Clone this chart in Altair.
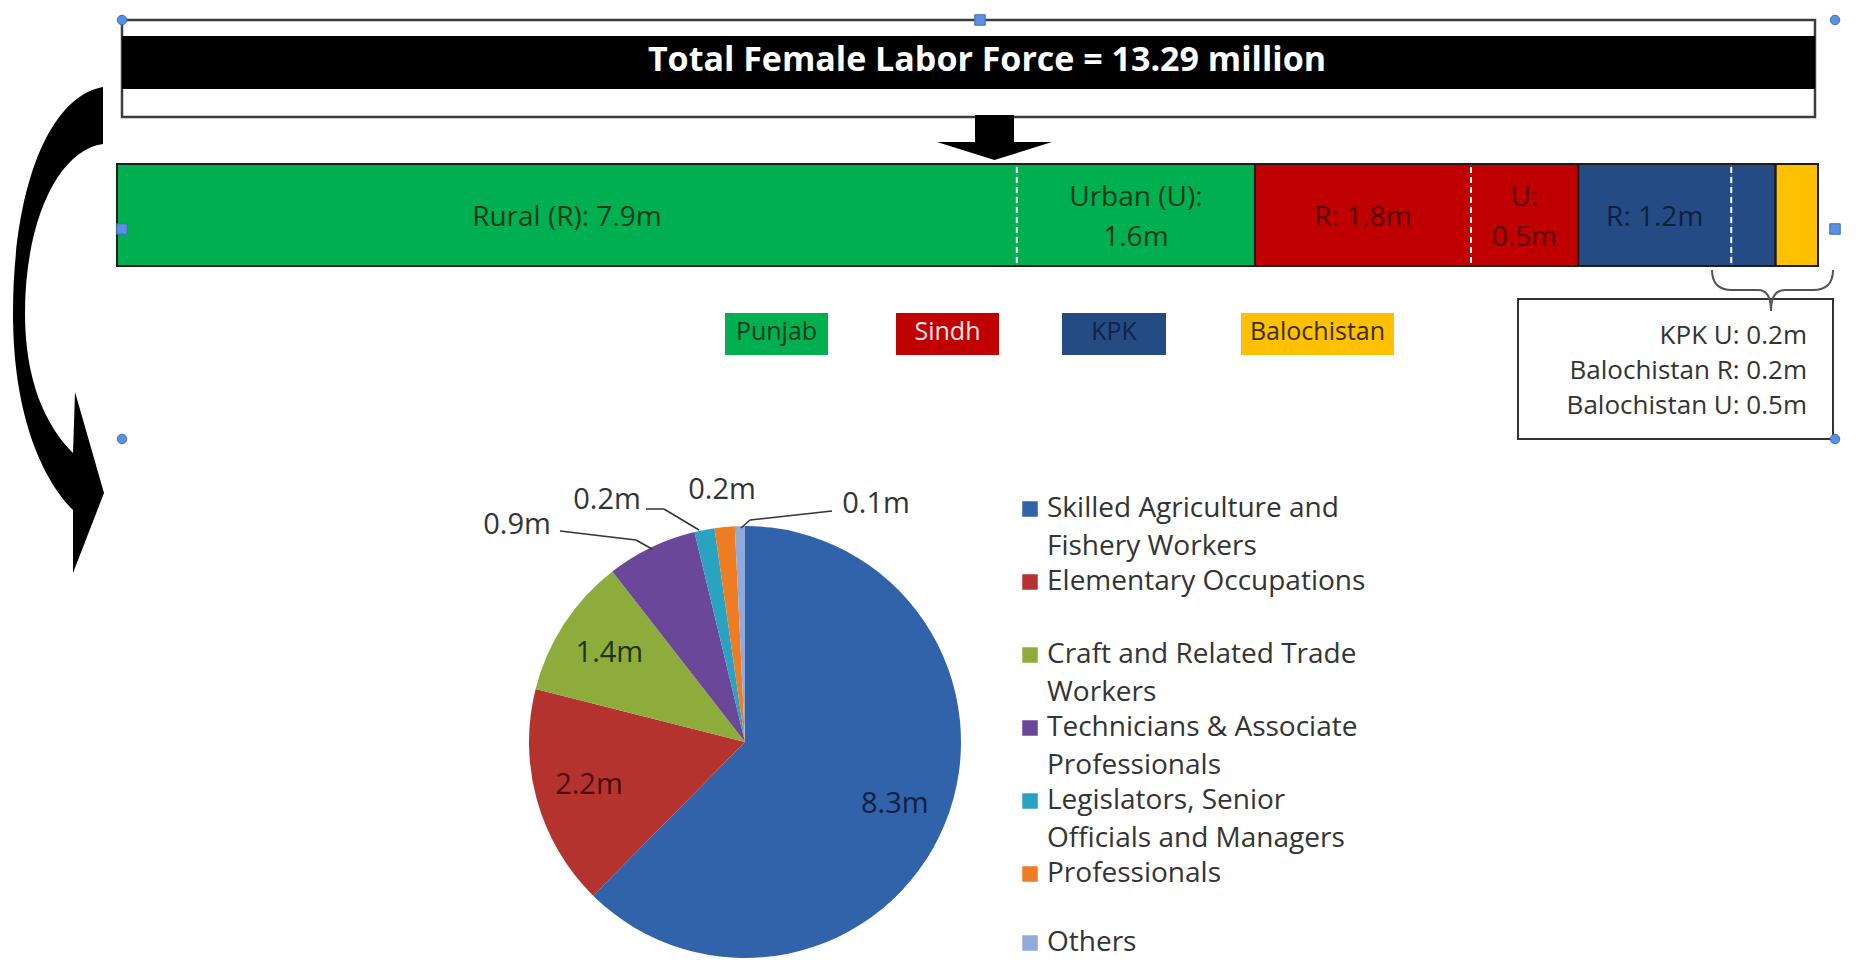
import altair as alt
import pandas as pd

# ---------------- data ----------------
TITLE = "Total Female Labor Force = 13.29 million"

seg_province = ["Punjab", "Punjab", "Sindh", "Sindh", "KPK", "KPK", "Balochistan"]
seg_area = ["Rural", "Urban", "Rural", "Urban", "Rural", "Urban", "All"]
seg_label = ["Rural (R): 7.9m", "Urban (U):\n1.6m", "R: 1.8m", "U:\n0.5m", "R: 1.2m", "", ""]
seg_span = [52.9, 14.0, 12.7, 6.3, 9.0, 2.6, 2.5]  # share of bar length as drawn (%)

provinces = ["Punjab", "Sindh", "KPK", "Balochistan"]
callout_lines = ["KPK U: 0.2m", "Balochistan R: 0.2m", "Balochistan U: 0.5m"]

occupations = [
    "Skilled Agriculture and Fishery Workers",
    "Elementary Occupations",
    "Craft and Related Trade Workers",
    "Technicians & Associate Professionals",
    "Legislators, Senior Officials and Managers",
    "Professionals",
    "Others",
]
occ_values = [8.3, 2.2, 1.4, 0.9, 0.2, 0.2, 0.1]
occ_labels = ["8.3m", "2.2m", "1.4m", "0.9m", "0.2m", "0.2m", "0.1m"]
occ_legend_lines = [
    ["Skilled Agriculture and", "Fishery Workers"],
    ["Elementary Occupations"],
    ["Craft and Related Trade", "Workers"],
    ["Technicians & Associate", "Professionals"],
    ["Legislators, Senior", "Officials and Managers"],
    ["Professionals"],
    ["Others"],
]

# ---------------- styles ----------------
FONT = "Open Sans"
province_fill = ["#00B050", "#C00000", "#254B84", "#FFC000"]
province_text = ["#0E3A1B", "#560000", "#0C2142", "#333333"]
legend_text = ["#0E3B1A", "#FFE5E5", "#0E2447", "#3A2E00"]
pie_colors = ["#3063AA", "#B5332F", "#8DAC3C", "#6B4799", "#2AA3C2", "#EE7C22", "#90AADB"]
pie_label_colors = ["#10213F", "#4A0C0A", "#24330E", "#333333", "#333333", "#333333", "#333333"]
HANDLE = "#5B8FE0"

# ---------------- layout (page pixels) ----------------
W, H = 1840, 953
OFF = 8


def px(v):
    return v - OFF


BOX = (122, 1815, 20, 117)
BAND = (36, 89)
BAR_X = (117, 1818)
BAR_Y = (164, 266)
BAR_LABEL_CY = 218
BAR_LABEL_LH = 40
LEG_X0 = [725, 896, 1062, 1241]
LEG_X1 = [828, 999, 1166, 1394]
LEG_Y = (313, 355)
CALLOUT = (1518, 1833, 299, 439)
CALLOUT_TEXT_X = 1807
CALLOUT_TEXT_Y = [336, 371, 406]
PIE_C = (745, 742)
PIE_R = 216
OUTER_LABEL_POS = [(517, 525), (607, 500), (722, 490), (876, 504)]
LEADERS = [
    ((560, 531), (636, 540)), ((636, 540), (652, 549)),
    ((646, 509), (664, 509)), ((664, 509), (699, 530)),
    ((832, 511), (750, 520)), ((750, 520), (741, 528)),
]
LEGEND_SQ_X = 1030
LEGEND_TX_X = 1047
LEGEND_ROW_Y = [509, 582, 655, 728, 801, 874, 943]
LEGEND_LINE = 38

one = pd.DataFrame({"k": [0]})
layers = []


def path_str(cmds, cx, cy, half):
    out = []
    for c, pts in cmds:
        if c == "Z":
            out.append("Z")
            continue
        coords = " ".join(f"{(x - cx) / half:.4f} {(y - cy) / half:.4f}" for x, y in pts)
        out.append(f"{c} {coords}")
    return " ".join(out)


# ---- title box ----
layers.append(alt.Chart(one).mark_rect(fill="white", stroke="#3c3c3c", strokeWidth=2.5).encode(
    x=alt.value(px(BOX[0])), x2=alt.value(px(BOX[1])), y=alt.value(px(BOX[2])), y2=alt.value(px(BOX[3]))))
layers.append(alt.Chart(one).mark_rect(fill="black").encode(
    x=alt.value(px(BOX[0])), x2=alt.value(px(BOX[1])), y=alt.value(px(BAND[0])), y2=alt.value(px(BAND[1]))))
layers.append(alt.Chart(pd.DataFrame({"t": [TITLE]})).mark_text(
    font=FONT, fontWeight="bold", fontSize=34, color="white", align="center", baseline="middle").encode(
    text="t:N", x=alt.value(px(987)), y=alt.value(px(61))))

# ---- down arrow ----
ARROW_C = (994.5, 137.5)
arrow_path = path_str([
    ("M", [(975, 115)]), ("L", [(1014, 115)]), ("L", [(1014, 142)]), ("L", [(1052, 142)]),
    ("L", [(994.5, 160)]), ("L", [(937, 142)]), ("L", [(975, 142)]), ("Z", []),
], ARROW_C[0], ARROW_C[1], 60)
layers.append(alt.Chart(one).mark_point(shape=arrow_path, filled=True, fill="black", opacity=1, size=14400).encode(
    x=alt.value(px(ARROW_C[0])), y=alt.value(px(ARROW_C[1]))))

# ---- curved arrow on the left ----
CURVE_C = (58.5, 331.5)
curve_path = path_str([
    ("M", [(103, 87)]),
    ("C", [(48, 97), (13, 190), (13, 313)]),
    ("C", [(13, 420), (45, 482), (73, 510)]),
    ("L", [(73, 573)]),
    ("L", [(104, 493)]),
    ("L", [(75, 392)]),
    ("L", [(73, 453)]),
    ("C", [(45, 425), (25, 380), (25, 313)]),
    ("C", [(25, 222), (58, 150), (103, 144)]),
    ("Z", []),
], CURVE_C[0], CURVE_C[1], 250)
layers.append(alt.Chart(one).mark_point(shape=curve_path, filled=True, fill="black", opacity=1, size=250000).encode(
    x=alt.value(px(CURVE_C[0])), y=alt.value(px(CURVE_C[1]))))

# ---- stacked provincial bar ----
a, b = px(BAR_X[0]), px(BAR_X[1])
D = 100.0 * W / (b - a)
d0 = -a * D / W
bar_scale = alt.Scale(domain=[d0, d0 + D], nice=False, zero=False)

bar_df = pd.DataFrame({"order": list(range(len(seg_span))), "province": seg_province,
                       "area": seg_area, "label": seg_label, "span": seg_span})
bar_base = alt.Chart(bar_df).transform_window(
    cum_end="sum(span)", sort=[alt.SortField("order", order="ascending")], frame=[None, 0]
).transform_calculate(cum_start="datum.cum_end - datum.span").transform_calculate(
    mid="(datum.cum_start + datum.cum_end) / 2")

layers.append(bar_base.mark_rect().encode(
    x=alt.X("cum_start:Q", scale=bar_scale, axis=None), x2="cum_end:Q",
    y=alt.value(px(BAR_Y[0])), y2=alt.value(px(BAR_Y[1])),
    color=alt.Color("province:N", scale=alt.Scale(domain=provinces, range=province_fill), legend=None)))
layers.append(bar_base.transform_filter("datum.area == 'Rural'").mark_rule(
    stroke="white", strokeDash=[6, 4], strokeWidth=2).encode(
    x=alt.X("cum_end:Q", scale=bar_scale, axis=None),
    y=alt.value(px(BAR_Y[0] + 3)), y2=alt.value(px(BAR_Y[1] - 3))))
layers.append(bar_base.transform_aggregate(
    start="min(cum_start)", end="max(cum_end)", groupby=["province"]).mark_rect(
    fillOpacity=0, stroke="#1e1e1e", strokeWidth=2).encode(
    x=alt.X("start:Q", scale=bar_scale, axis=None), x2="end:Q",
    y=alt.value(px(BAR_Y[0])), y2=alt.value(px(BAR_Y[1]))))
layers.append(bar_base.transform_calculate(
    nl="length(split(datum.label, '\\n'))"
).transform_calculate(
    ty=f"{px(BAR_LABEL_CY)} - (datum.nl - 1) * {BAR_LABEL_LH / 2}"
).mark_text(font=FONT, fontSize=28, lineBreak="\n", lineHeight=BAR_LABEL_LH,
            align="center", baseline="middle").encode(
    x=alt.X("mid:Q", scale=bar_scale, axis=None), y=alt.Y("ty:Q", scale=None), text="label:N",
    color=alt.Color("province:N", scale=alt.Scale(domain=provinces, range=province_text), legend=None)))

# ---- province legend boxes ----
leg_df = pd.DataFrame({"province": provinces,
                       "x0": [px(v) for v in LEG_X0], "x1": [px(v) for v in LEG_X1]})
leg_df["xm"] = (leg_df["x0"] + leg_df["x1"]) / 2
layers.append(alt.Chart(leg_df).mark_rect().encode(
    x=alt.X("x0:Q", scale=None), x2="x1:Q", y=alt.value(px(LEG_Y[0])), y2=alt.value(px(LEG_Y[1])),
    color=alt.Color("province:N", scale=alt.Scale(domain=provinces, range=province_fill), legend=None)))
layers.append(alt.Chart(leg_df).mark_text(font=FONT, fontSize=25, align="center", baseline="middle").encode(
    x=alt.X("xm:Q", scale=None), y=alt.value(px((LEG_Y[0] + LEG_Y[1]) / 2 - 2)), text="province:N",
    color=alt.Color("province:N", scale=alt.Scale(domain=provinces, range=legend_text), legend=None)))

# ---- callout box with brace ----
layers.append(alt.Chart(one).mark_rect(fill="white", stroke="#333333", strokeWidth=2).encode(
    x=alt.value(px(CALLOUT[0])), x2=alt.value(px(CALLOUT[1])),
    y=alt.value(px(CALLOUT[2])), y2=alt.value(px(CALLOUT[3]))))
BRACE_C = (1772.5, 290.5)
brace_path = path_str([
    ("M", [(1712, 270)]), ("Q", [(1712, 290), (1732, 290)]), ("L", [(1758, 290)]),
    ("Q", [(1771, 290), (1771, 311)]), ("Q", [(1771, 290), (1785, 290)]), ("L", [(1813, 290)]),
    ("Q", [(1833, 290), (1833, 270)]),
], BRACE_C[0], BRACE_C[1], 65)
layers.append(alt.Chart(one).mark_point(shape=brace_path, filled=False, stroke="#555555",
                                        strokeWidth=2, opacity=1, size=16900).encode(
    x=alt.value(px(BRACE_C[0])), y=alt.value(px(BRACE_C[1]))))
call_df = pd.DataFrame({"t": callout_lines, "y": [px(v) for v in CALLOUT_TEXT_Y]})
layers.append(alt.Chart(call_df).mark_text(font=FONT, fontSize=26, align="right", baseline="middle",
                                           color="#333333").encode(
    x=alt.value(px(CALLOUT_TEXT_X)), y=alt.Y("y:Q", scale=None), text="t:N"))

# ---- selection handles ----
hcirc = pd.DataFrame({"x": [px(122), px(1835), px(122), px(1835)], "y": [px(20), px(20), px(439), px(439)]})
hsq = pd.DataFrame({"x": [px(980), px(122), px(1835)], "y": [px(20), px(229), px(229)]})
layers.append(alt.Chart(hcirc).mark_point(shape="circle", filled=True, fill=HANDLE, stroke="#3D6CC0",
                                          strokeWidth=1, opacity=1, size=90).encode(
    x=alt.X("x:Q", scale=None), y=alt.Y("y:Q", scale=None)))
layers.append(alt.Chart(hsq).mark_point(shape="square", filled=True, fill=HANDLE, stroke="#3D6CC0",
                                        strokeWidth=1, opacity=1, size=110).encode(
    x=alt.X("x:Q", scale=None), y=alt.Y("y:Q", scale=None)))

# ---- pie ----
pie_df = pd.DataFrame({"idx": list(range(len(occupations))), "occupation": occupations,
                       "value": occ_values, "label": occ_labels})
pie_color = alt.Scale(domain=occupations, range=pie_colors)
layers.append(alt.Chart(pie_df).mark_arc(radius=PIE_R).encode(
    theta=alt.Theta("value:Q", stack=True), order=alt.Order("idx:Q"),
    color=alt.Color("occupation:N", scale=pie_color, legend=None),
    x=alt.value(px(PIE_C[0])), y=alt.value(px(PIE_C[1]))))
layers.append(alt.Chart(pie_df).transform_calculate(
    inner="datum.value >= 1 ? datum.label : ''").mark_text(
    radius=162, font=FONT, fontSize=29, align="center", baseline="middle").encode(
    theta=alt.Theta("value:Q", stack=True), order=alt.Order("idx:Q"), text="inner:N",
    color=alt.Color("occupation:N", scale=alt.Scale(domain=occupations, range=pie_label_colors), legend=None),
    x=alt.value(px(PIE_C[0])), y=alt.value(px(PIE_C[1]))))

small = [i for i, v in enumerate(occ_values) if v < 1]
out_df = pd.DataFrame({"t": [occ_labels[i] for i in small],
                       "x": [px(p[0]) for p in OUTER_LABEL_POS], "y": [px(p[1]) for p in OUTER_LABEL_POS]})
layers.append(alt.Chart(out_df).mark_text(font=FONT, fontSize=29, align="center", baseline="middle",
                                          color="#333333").encode(
    x=alt.X("x:Q", scale=None), y=alt.Y("y:Q", scale=None), text="t:N"))
lead_df = pd.DataFrame({"x": [px(s[0][0]) for s in LEADERS], "y": [px(s[0][1]) for s in LEADERS],
                        "x2": [px(s[1][0]) for s in LEADERS], "y2": [px(s[1][1]) for s in LEADERS]})
layers.append(alt.Chart(lead_df).mark_rule(stroke="#333333", strokeWidth=1.5).encode(
    x=alt.X("x:Q", scale=None), y=alt.Y("y:Q", scale=None), x2="x2:Q", y2="y2:Q"))

# ---- pie legend ----
leg_rows = pd.DataFrame({"occupation": occupations, "y": [px(v) for v in LEGEND_ROW_Y]})
layers.append(alt.Chart(leg_rows).mark_square(size=240, opacity=1).encode(
    x=alt.value(px(LEGEND_SQ_X)), y=alt.Y("y:Q", scale=None),
    color=alt.Color("occupation:N", scale=pie_color, legend=None)))
txt_rows = []
for i, lines in enumerate(occ_legend_lines):
    for j, line in enumerate(lines):
        txt_rows.append({"t": line, "y": px(LEGEND_ROW_Y[i] + j * LEGEND_LINE)})
layers.append(alt.Chart(pd.DataFrame(txt_rows)).mark_text(
    font=FONT, fontSize=28, align="left", baseline="middle", color="#333333").encode(
    x=alt.value(px(LEGEND_TX_X)), y=alt.Y("y:Q", scale=None), text="t:N"))

chart = alt.layer(*layers).resolve_scale(
    x="independent", y="independent", color="independent"
).properties(
    width=W, height=H, padding=0, autosize=alt.AutoSizeParams(type="none"), background="white"
).configure_view(strokeOpacity=0)

chart.save("out.html", embed_options={"renderer": "svg", "actions": False})
